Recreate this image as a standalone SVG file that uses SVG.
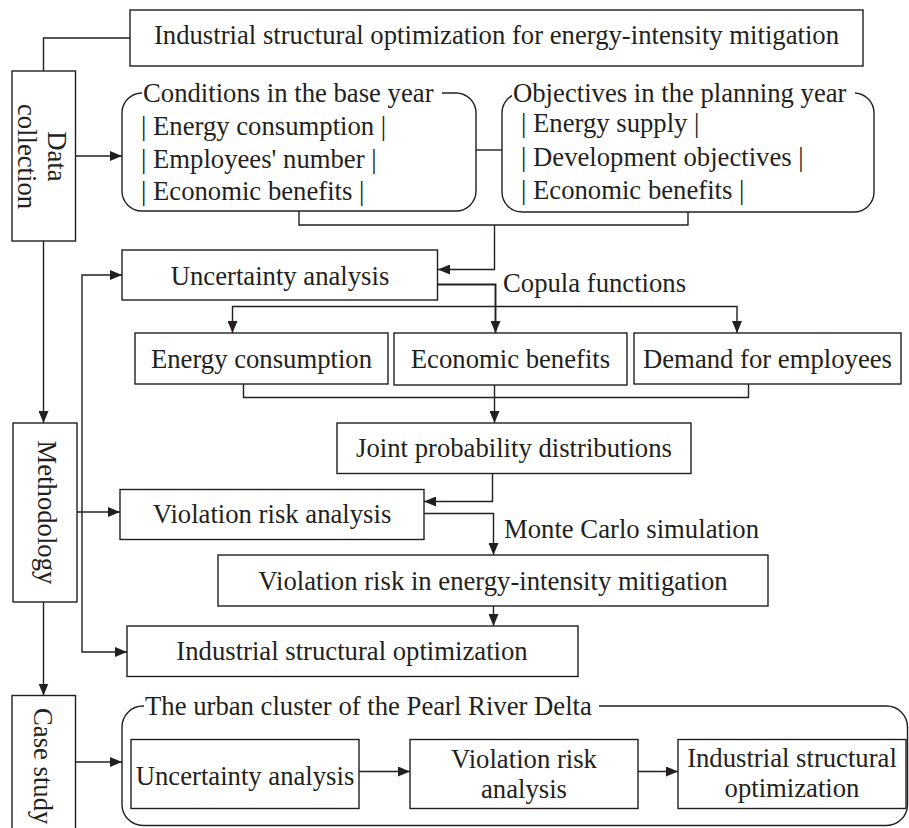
<svg xmlns="http://www.w3.org/2000/svg" width="909" height="828" viewBox="0 0 909 828">
<defs>
<marker id="ah" viewBox="0 0 12 10" refX="12" refY="5" markerWidth="12" markerHeight="10" markerUnits="userSpaceOnUse" orient="auto">
<path d="M0,0 L12,5 L0,10 z" fill="#231f20"/>
</marker>
<style>
.b{fill:#fff;stroke:#231f20;stroke-width:1.4}
.r{fill:none;stroke:#231f20;stroke-width:1.4}
.t{font-family:"Liberation Serif","Times New Roman",serif;font-size:26.7px;fill:#231f20}
.m{text-anchor:middle}
.c{fill:none;stroke:#231f20;stroke-width:1.4}
.a{marker-end:url(#ah)}
.w{fill:#fff;stroke:none}
</style>
</defs>
<rect width="909" height="828" fill="#fff"/>

<g id="connectors">
<path class="c" d="M130,38 H43.5 V71"/>
<path class="c a" d="M76,156 H122"/>
<path class="c a" d="M43.5,241 V423"/>
<path class="c a" d="M43.5,602 V695.5"/>
<path class="c a" d="M76,762 H122"/>
<path class="c" d="M476,150 H502"/>
<path class="c" d="M299,211 V225 H688 V212"/>
<path class="c a" d="M494.5,225 V269.5 H438"/>
<path class="c a" d="M82,464 V275 H122"/>
<path class="c a" d="M82,464 V652 H127"/>
<path class="c a" d="M77,512 H120"/>
<path class="c a" style="stroke-width:1.9" d="M438,284.5 H495.5 V333"/>
<path class="c a" d="M495,306.5 H232.5 V333"/>
<path class="c a" d="M495,306.5 H737 V333"/>
<path class="c" d="M243.5,384 V397.5 H748.5 V384"/>
<path class="c a" d="M494.5,385 V423"/>
<path class="c a" d="M492.5,473.5 V501.5 H424"/>
<path class="c a" d="M424,513.5 H493.5 V555"/>
<path class="c a" d="M493.5,606 V626"/>
<path class="c a" d="M359,771.5 H410"/>
<path class="c a" d="M638,771.5 H678"/>
</g>

<g id="top-title">
<rect class="b" x="130" y="10" width="733" height="56"/>
<text class="t m" x="496.5" y="44">Industrial structural optimization for energy-intensity mitigation</text>
</g>

<g id="data-collection">
<rect class="b" x="12" y="71" width="63.5" height="170"/>
<g transform="translate(43.5,156.5) rotate(90)">
<text class="t m" x="0" y="-4.8">Data</text>
<text class="t m" x="0" y="25.2">collection</text>
</g>
</g>

<g id="conditions">
<rect class="r" x="122" y="93" width="354" height="118" rx="20" ry="20"/>
<rect class="w" x="142" y="82" width="300" height="22"/>
<text class="t" x="143" y="101.5">Conditions in the base year</text>
<text class="t" x="141" y="135">| Energy consumption |</text>
<text class="t" x="141" y="168">| Employees' number |</text>
<text class="t" x="141" y="200">| Economic benefits |</text>
</g>

<g id="objectives">
<rect class="r" x="502" y="93" width="372" height="119" rx="20" ry="20"/>
<rect class="w" x="512" y="82" width="343" height="22"/>
<text class="t" x="513" y="101.5">Objectives in the planning year</text>
<text class="t" x="521" y="132">| Energy supply |</text>
<text class="t" x="521" y="166">| Development objectives |</text>
<text class="t" x="521" y="199">| Economic benefits |</text>
</g>

<g id="uncertainty">
<rect class="b" x="122" y="250" width="315.5" height="50"/>
<text class="t m" x="280" y="285">Uncertainty analysis</text>
</g>

<g id="copula-label">
<text class="t" x="503" y="292">Copula functions</text>
</g>

<g id="energy-consumption">
<rect class="b" x="135" y="333" width="253" height="51"/>
<text class="t m" x="261.5" y="368">Energy consumption</text>
</g>

<g id="economic-benefits">
<rect class="b" x="394" y="333" width="233" height="52"/>
<text class="t m" x="510.5" y="368">Economic benefits</text>
</g>

<g id="demand-employees">
<rect class="b" x="634" y="333" width="267" height="51"/>
<text class="t m" x="767.5" y="368">Demand for employees</text>
</g>

<g id="joint">
<rect class="b" x="337" y="423" width="354" height="50.5"/>
<text class="t m" x="514" y="456.5">Joint probability distributions</text>
</g>

<g id="violation-risk">
<rect class="b" x="120" y="489.5" width="304" height="50"/>
<text class="t m" x="272" y="523">Violation risk analysis</text>
</g>

<g id="monte-carlo-label">
<text class="t" x="504" y="538">Monte Carlo simulation</text>
</g>

<g id="violation-energy">
<rect class="b" x="218" y="555" width="550" height="51"/>
<text class="t m" x="493" y="590">Violation risk in energy-intensity mitigation</text>
</g>

<g id="industrial-opt">
<rect class="b" x="127" y="626" width="451" height="50.5"/>
<text class="t m" x="352" y="660">Industrial structural optimization</text>
</g>

<g id="methodology">
<rect class="b" x="13" y="423" width="64" height="179"/>
<g transform="translate(44.5,512.5) rotate(90)">
<text class="t m" x="0" y="6.2">Methodology</text>
</g>
</g>

<g id="case-study">
<rect class="b" x="12" y="695.5" width="63.5" height="150"/>
<g transform="translate(43.5,708) rotate(90)">
<text class="t" x="0" y="9.5">Case study</text>
</g>
</g>

<g id="pearl-river">
<rect class="r" x="122" y="706" width="785.5" height="119.5" rx="21" ry="21"/>
<rect class="w" x="144" y="695" width="455" height="22"/>
<text class="t" x="145" y="715">The urban cluster of the Pearl River Delta</text>
</g>

<g id="pr-uncertainty">
<rect class="b" x="131" y="739.5" width="228" height="69"/>
<text class="t m" x="245" y="785">Uncertainty analysis</text>
</g>

<g id="pr-violation">
<rect class="b" x="410" y="739.5" width="228" height="69"/>
<text class="t m" x="524" y="768">Violation risk</text>
<text class="t m" x="524" y="798">analysis</text>
</g>

<g id="pr-industrial">
<rect class="b" x="678" y="739.5" width="228" height="69"/>
<text class="t m" x="792" y="767">Industrial structural</text>
<text class="t m" x="792" y="797">optimization</text>
</g>
</svg>
